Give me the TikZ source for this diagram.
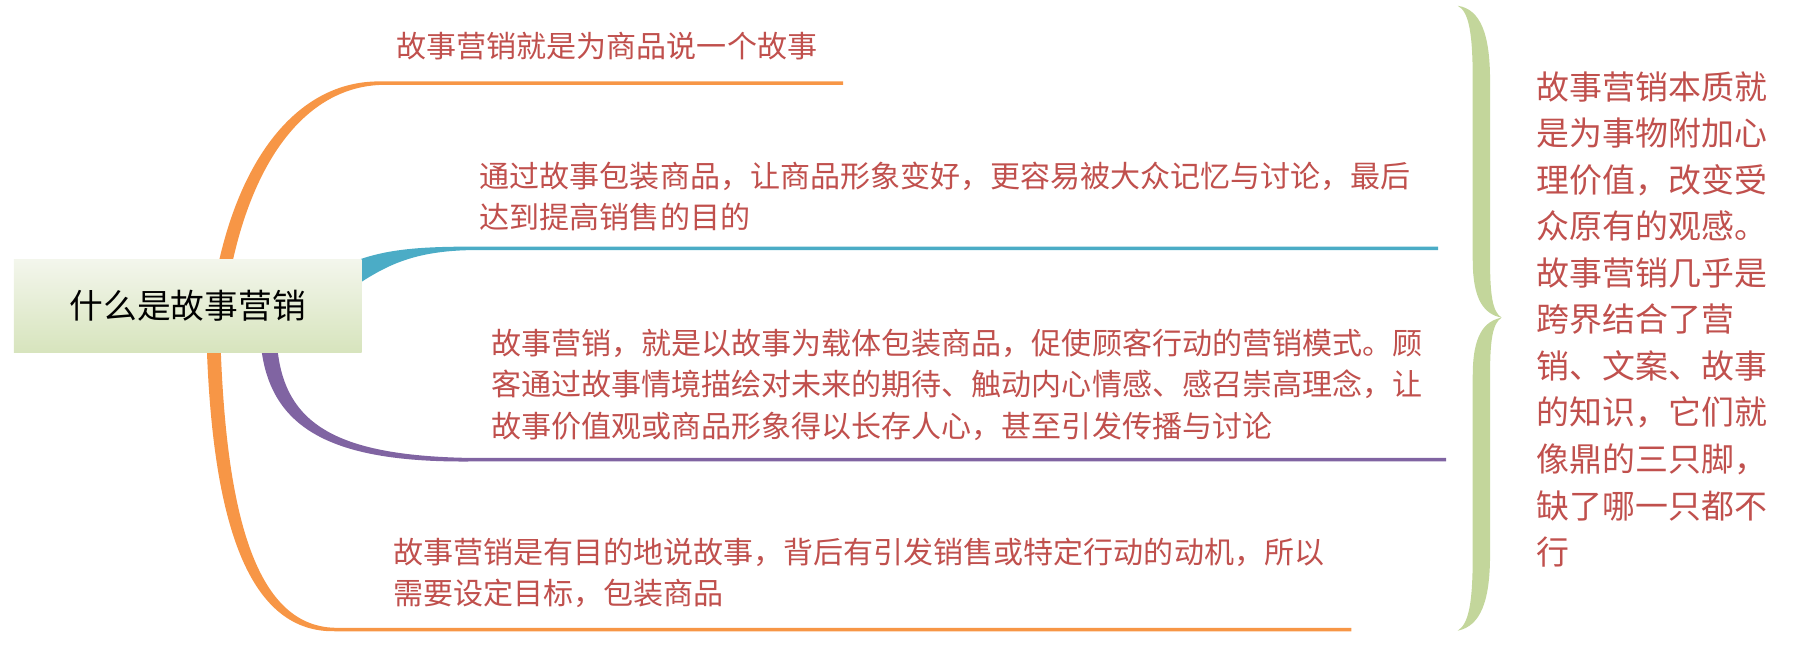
\documentclass[tikz,border=0pt]{standalone}
\usepackage{fontspec}
\newfontfamily\cjk{Noto Sans CJK SC}
\definecolor{txtred}{HTML}{C0504D}
\definecolor{borange}{HTML}{F79646}
\definecolor{bteal}{HTML}{4BACC6}
\definecolor{bpurple}{HTML}{8064A2}
\definecolor{bgreen}{HTML}{C3D69B}
\definecolor{hubtop}{HTML}{F3F6EC}
\definecolor{hubbot}{HTML}{D7E4BD}
\tikzstyle{leaf}=[anchor=west, inner sep=0pt, align=left, text=txtred, font=\cjk\fontsize{13pt}{18pt}\selectfont]
\tikzstyle{note}=[leaf, font=\cjk\fontsize{14.25pt}{20.15pt}\selectfont]
\tikzstyle{hub}=[inner sep=0pt, minimum width=150.5pt, minimum height=40pt, top color=hubtop, bottom color=hubbot, font=\cjk\fontsize{14.6pt}{16pt}\selectfont]

\begin{document}
\begin{tikzpicture}[x=0.5pt, y=-0.5pt]
        \useasboundingbox (0, 0) rectangle (1567, 571);
        % branches
        \fill[borange] (179, 300) .. controls (189, 158) and (248, 69) .. (330, 70.5) -- (730, 70.5) -- (730, 73.5) -- (330, 73.5) .. controls (254, 76) and (201, 162) .. (191, 300) -- cycle;
        \fill[borange] (179, 300) .. controls (184, 442) and (211, 548) .. (290, 546.5) -- (1170, 546.5) -- (1170, 543.5) -- (290, 543.5) .. controls (219, 542) and (196, 438) .. (191, 300) -- cycle;
        \fill[bpurple] (226, 300) .. controls (234, 372) and (288, 401) .. (410, 399.5) -- (1252, 399.5) -- (1252, 396.5) -- (410, 396.5) .. controls (292, 395) and (246, 368) .. (240, 300) -- cycle;
        \fill[bteal] (300, 229) .. controls (330, 216) and (360, 213.5) .. (410, 213.5) -- (1245, 213.5) -- (1245, 216.5) -- (410, 216.5) .. controls (362, 217) and (338, 228) .. (313, 244) -- (300, 244) -- cycle;
        \node[hub] (H) at (162.5, 265) {什么是故事营销};
        \node[leaf] (L1) at (343, 40) {故事营销就是为商品说一个故事};
        \node[leaf] (L2) at (415, 170) {通过故事包装商品，让商品形象变好，更容易被大众记忆与讨论，最后\\达到提高销售的目的};
        \node[leaf] (L3) at (425, 333) {故事营销，就是以故事为载体包装商品，促使顾客行动的营销模式。顾\\客通过故事情境描绘对未来的期待、触动内心情感、感召崇高理念，让\\故事价值观或商品形象得以长存人心，甚至引发传播与讨论};
        \node[leaf] (L4) at (340, 496) {故事营销是有目的地说故事，背后有引发销售或特定行动的动机，所以\\需要设定目标，包装商品};
        % brace
        \fill[bgreen] (1262, 5) .. controls (1282, 8) and (1290, 30) .. (1290, 70) -- (1290, 225) .. controls (1290, 255) and (1292, 270) .. (1300, 275) .. controls (1292, 280) and (1290, 295) .. (1290, 325) -- (1290, 480) .. controls (1290, 520) and (1282, 542) .. (1262, 546) .. controls (1272, 540) and (1275, 520) .. (1275, 480) -- (1275, 325) .. controls (1275, 290) and (1285, 278) .. (1300, 275) .. controls (1285, 272) and (1275, 260) .. (1275, 225) -- (1275, 70) .. controls (1275, 30) and (1272, 10) .. (1262, 5) -- cycle;
        \node[note] (N) at (1330, 276.5) {故事营销本质就\\是为事物附加心\\理价值，改变受\\众原有的观感。\\故事营销几乎是\\跨界结合了营\\销、文案、故事\\的知识，它们就\\像鼎的三只脚，\\缺了哪一只都不\\行};
    \end{tikzpicture}
\end{document}
